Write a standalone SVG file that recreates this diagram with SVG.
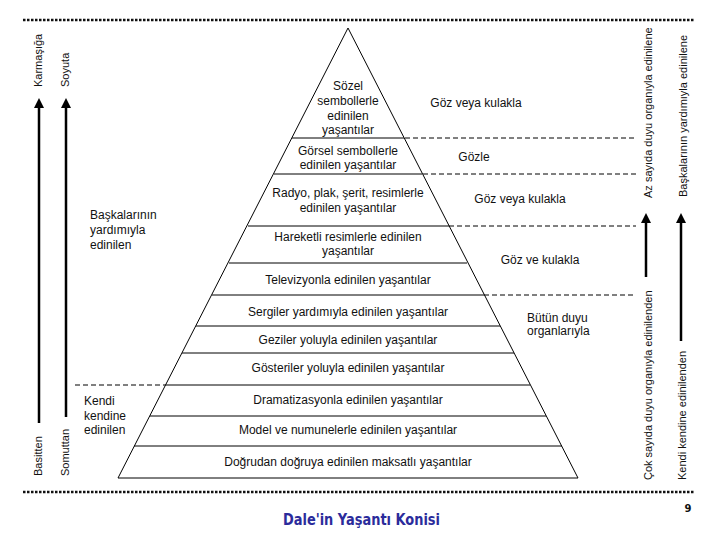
<svg xmlns="http://www.w3.org/2000/svg" width="720" height="540" viewBox="0 0 720 540">
<style>
.t{font-family:"Liberation Sans",Arial,sans-serif;font-size:12px;fill:#111}
.c{text-anchor:middle}
.v{font-family:"Liberation Sans",Arial,sans-serif;font-size:11px;fill:#111}
.edge{stroke:#000;stroke-width:1;fill:none}
.dash{stroke:#000;stroke-width:1;stroke-dasharray:5 3;fill:none}
.dot{stroke:#111;stroke-width:2.5;stroke-dasharray:2.5 1.5;fill:none}
.arr{stroke:#000;stroke-width:2.5;fill:none}
</style>
<defs>
<marker id="ah" markerWidth="4" markerHeight="4" refX="2" refY="2" orient="auto" markerUnits="strokeWidth" viewBox="0 0 4 4">
<path d="M0,0 L4,2 L0,4 Z" fill="#000"/>
</marker>
</defs>
<rect width="720" height="540" fill="#fff"/>
<g id="frame">
<line class="dot" x1="23" y1="20" x2="695" y2="20"/>
<line class="dot" x1="23" y1="492" x2="695" y2="492"/>
</g>
<g id="connectors">
<line class="arr" x1="39" y1="423" x2="39" y2="103" marker-end="url(#ah)"/>
<line class="arr" x1="66" y1="417" x2="66" y2="103" marker-end="url(#ah)"/>
<line class="arr" x1="646" y1="277" x2="646" y2="218" marker-end="url(#ah)"/>
<line class="arr" x1="681" y1="341" x2="681" y2="218" marker-end="url(#ah)"/>
<line class="dash" x1="405" y1="138" x2="636" y2="138"/>
<line class="dash" x1="423" y1="174" x2="636" y2="174"/>
<line class="dash" x1="449" y1="226" x2="636" y2="226"/>
<line class="dash" x1="484" y1="295" x2="636" y2="295"/>
<line class="dash" x1="75" y1="385" x2="166" y2="385"/>
</g>
<g id="pyramid">
<path class="edge" d="M348,28 L118,478 L578,478 Z"/>
<line class="edge" x1="292" y1="138" x2="404" y2="138"/>
<line class="edge" x1="274" y1="174" x2="422" y2="174"/>
<line class="edge" x1="248" y1="226" x2="449" y2="226"/>
<line class="edge" x1="229" y1="263" x2="467" y2="263"/>
<line class="edge" x1="212" y1="295" x2="484" y2="295"/>
<line class="edge" x1="196" y1="326" x2="500" y2="326"/>
<line class="edge" x1="182" y1="353" x2="514" y2="353"/>
<line class="edge" x1="166" y1="385" x2="530" y2="385"/>
<line class="edge" x1="150" y1="416" x2="546" y2="416"/>
<line class="edge" x1="134" y1="446" x2="562" y2="446"/>
</g>
<g id="level-sozel">
<text class="t c" x="348" y="90">Sözel</text>
<text class="t c" x="348" y="105">sembollerle</text>
<text class="t c" x="348" y="120">edinilen</text>
<text class="t c" x="348" y="134">yaşantılar</text>
</g>
<g id="level-gorsel">
<text class="t c" x="348" y="155">Görsel sembollerle</text>
<text class="t c" x="348" y="169">edinilen yaşantılar</text>
</g>
<g id="level-radyo">
<text class="t c" x="348" y="197">Radyo, plak, şerit, resimlerle</text>
<text class="t c" x="348" y="212">edinilen yaşantılar</text>
</g>
<g id="level-hareketli">
<text class="t c" x="348" y="241">Hareketli resimlerle edinilen</text>
<text class="t c" x="348" y="255">yaşantılar</text>
</g>
<g id="level-televizyon"><text class="t c" x="348" y="284">Televizyonla edinilen yaşantılar</text></g>
<g id="level-sergiler"><text class="t c" x="348" y="316">Sergiler yardımıyla edinilen yaşantılar</text></g>
<g id="level-geziler"><text class="t c" x="348" y="344">Geziler yoluyla edinilen yaşantılar</text></g>
<g id="level-gosteriler"><text class="t c" x="348" y="372">Gösteriler yoluyla edinilen yaşantılar</text></g>
<g id="level-dramatizasyon"><text class="t c" x="348" y="404">Dramatizasyonla edinilen yaşantılar</text></g>
<g id="level-model"><text class="t c" x="348" y="434">Model ve numunelerle edinilen yaşantılar</text></g>
<g id="level-dogrudan"><text class="t c" x="348" y="466">Doğrudan doğruya edinilen maksatlı yaşantılar</text></g>
<g id="senses">
<text class="t c" x="476" y="107">Göz veya kulakla</text>
<text class="t c" x="474" y="161">Gözle</text>
<text class="t c" x="520" y="203">Göz veya kulakla</text>
<text class="t c" x="540" y="264">Göz ve kulakla</text>
<text class="t" x="527" y="322">Bütün duyu</text>
<text class="t" x="527" y="335">organlarıyla</text>
</g>
<g id="left-labels">
<text class="t" x="90" y="219">Başkalarının</text>
<text class="t" x="90" y="234">yardımıyla</text>
<text class="t" x="90" y="249">edinilen</text>
<text class="t" x="84" y="405">Kendi</text>
<text class="t" x="84" y="420">kendine</text>
<text class="t" x="84" y="434">edinilen</text>
</g>
<g id="axis-labels">
<text class="v" transform="translate(42,87) rotate(-90)">Karmaşığa</text>
<text class="v" transform="translate(69,87) rotate(-90)">Soyuta</text>
<text class="v" transform="translate(42,476) rotate(-90)">Basitten</text>
<text class="v" transform="translate(69,476) rotate(-90)">Somuttan</text>
<text class="v" transform="translate(652,198) rotate(-90)">Az sayıda duyu organıyla edinilene</text>
<text class="v" transform="translate(687,197) rotate(-90)">Başkalarının yardımıyla edinilene</text>
<text class="v" transform="translate(652,480) rotate(-90)">Çok sayıda duyu organıyla edinilenden</text>
<text class="v" transform="translate(686,480) rotate(-90)">Kendi kendine edinilenden</text>
</g>
<g id="title">
<text x="283" y="525" font-family="DejaVu Sans,Verdana,sans-serif" font-weight="bold" font-size="15" fill="#2b2b9b" textLength="157" lengthAdjust="spacingAndGlyphs">Dale'in Yaşantı Konisi</text>
<text x="688" y="512" text-anchor="middle" font-family="DejaVu Sans,sans-serif" font-weight="bold" font-size="10" fill="#111">9</text>
</g>
</svg>
